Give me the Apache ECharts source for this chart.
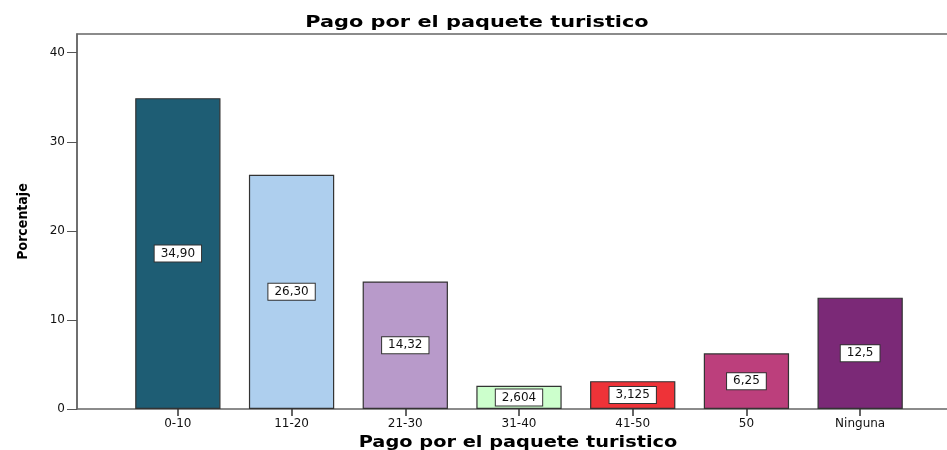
<!DOCTYPE html>
<html>
<head>
<meta charset="utf-8">
<script src="https://cdn.jsdelivr.net/npm/echarts@6/dist/echarts.min.js"></script>
<style>
  html, body { margin: 0; padding: 0; background: #fff; }
  #chart { width: 947px; height: 450px; }
</style>
</head>
<body>
<div id="chart"></div>
<script>
// categorías y porcentajes
const categories = ['0-10', '11-20', '21-30', '31-40', '41-50', '50', 'Ninguna']
const percentages = [34.90, 26.30, 14.32, 2.604, 3.125, 6.25, 12.5]
const valueLabels = ['34,90', '26,30', '14,32', '2,604', '3,125', '6,25', '12,5']
const barColors = ['#1e5d74', '#aecfee', '#b89aca', '#ccffcc', '#ee3338', '#bc3f7c', '#7b2977']
const yTicks = [0, 10, 20, 30, 40]
const chartTitle = 'Pago por el paquete turistico'
const xTitle = 'Pago por el paquete turistico'
const yTitle = 'Porcentaje'

const yMax = 42.1
const labelFont = 'DejaVu Sans'

const chart = echarts.init(document.getElementById('chart'))

chart.setOption({
  animation: false,
  // títulos como texto, estirados a lo ancho como en el original
  graphic: [
    {
      type: 'text',
      x: 477,
      y: 23,
      scaleX: 1.39,
      style: {
        text: chartTitle,
        font: 'bold 15px "DejaVu Sans"',
        fill: '#000',
        align: 'center',
        verticalAlign: 'middle'
      }
    },
    {
      type: 'text',
      x: 518,
      y: 443,
      scaleX: 1.29,
      style: {
        text: xTitle,
        font: 'bold 15px "DejaVu Sans"',
        fill: '#000',
        align: 'center',
        verticalAlign: 'middle'
      }
    }
  ],
  grid: [
    // marco del gráfico
    { left: 77, top: 34, right: -2, bottom: 41, show: true, borderColor: '#666', borderWidth: 1.5, outerBoundsMode: 'none' },
    // zona de barras
    { left: 121, top: 34, right: 30, bottom: 41, outerBoundsMode: 'none' }
  ],
  xAxis: [
    { type: 'value', gridIndex: 0, show: false, min: 0, max: 1 },
    {
      type: 'category',
      gridIndex: 1,
      data: categories,
      axisLine: { show: false },
      axisTick: { show: true, alignWithLabel: true, length: 7, lineStyle: { color: '#333', width: 1.5 } },
      axisLabel: { margin: 9, fontFamily: labelFont, fontSize: 12, color: '#111' }
    }
  ],
  yAxis: [
    {
      type: 'value',
      gridIndex: 0,
      min: 0,
      max: yMax,
      splitLine: { show: false },
      axisLine: { show: true, lineStyle: { color: '#666', width: 1.5 } },
      axisTick: { show: true, length: 10, customValues: yTicks, lineStyle: { color: '#555' } },
      axisLabel: { margin: 12, customValues: yTicks, fontFamily: labelFont, fontSize: 12, color: '#111' },
      name: yTitle,
      nameLocation: 'middle',
      nameGap: 47,
      nameTextStyle: {
        fontFamily: '"Liberation Sans Narrow", "DejaVu Sans Condensed", "Roboto Condensed", "DejaVu Sans", sans-serif',
        fontSize: 14,
        fontWeight: 'bold',
        color: '#000'
      }
    },
    { type: 'value', gridIndex: 1, min: 0, max: yMax, show: false }
  ],
  series: [{
    type: 'bar',
    xAxisIndex: 1,
    yAxisIndex: 1,
    barCategoryGap: '25%',
    data: percentages.map((v, i) => ({
      value: v,
      itemStyle: { color: barColors[i] }
    })),
    itemStyle: { borderColor: '#333', borderWidth: 1.2 },
    label: {
      show: true,
      position: 'inside',
      formatter: p => valueLabels[p.dataIndex],
      fontFamily: labelFont,
      fontSize: 12,
      color: '#111',
      backgroundColor: '#fff',
      borderColor: '#333',
      borderWidth: 1,
      padding: [2, 6]
    }
  }]
})
</script>
</body>
</html>
